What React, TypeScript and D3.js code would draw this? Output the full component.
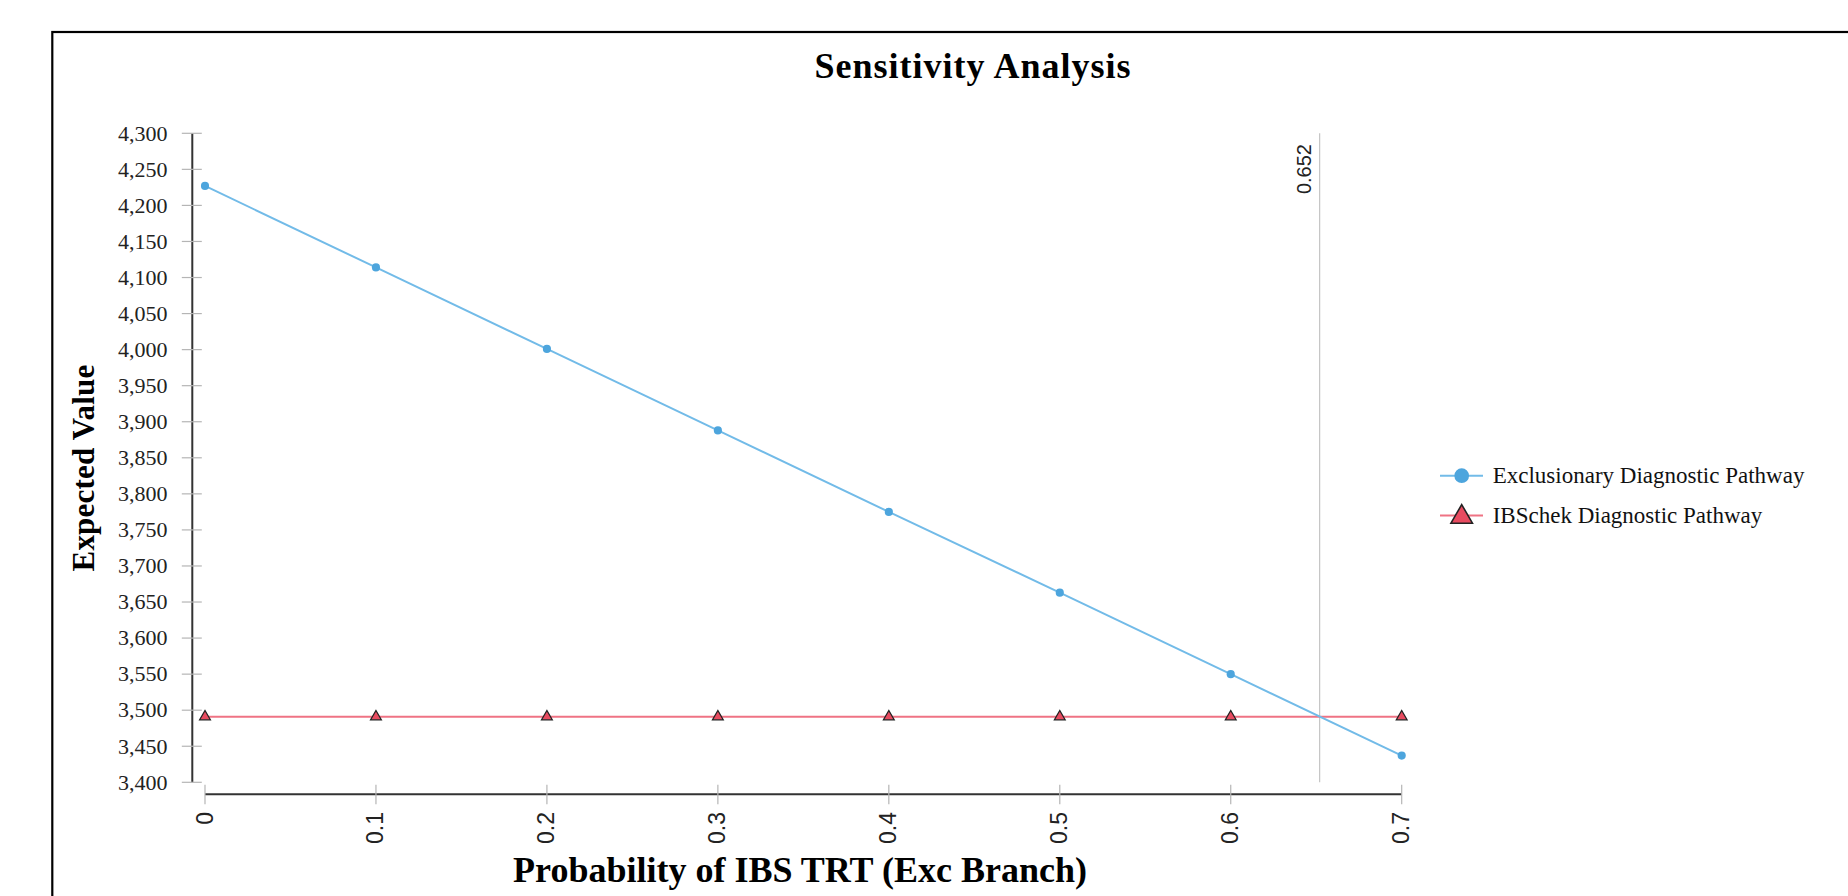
import React from "react";
import * as d3 from "d3";

const xValues = [0, 0.1, 0.2, 0.3, 0.4, 0.5, 0.6, 0.7];
const exclusionary = [4227, 4114, 4001, 3888, 3775, 3663, 3550, 3437];
const ibschek = [3491, 3491, 3491, 3491, 3491, 3491, 3491, 3491];
const yTickValues = [3400, 3450, 3500, 3550, 3600, 3650, 3700, 3750, 3800, 3850, 3900, 3950, 4000, 4050, 4100, 4150, 4200, 4250, 4300];
const xTickValues = [0, 0.1, 0.2, 0.3, 0.4, 0.5, 0.6, 0.7];
const threshold = 0.652;
const seriesNames = ["Exclusionary Diagnostic Pathway", "IBSchek Diagnostic Pathway"];
const title = "Sensitivity Analysis";
const xTitle = "Probability of IBS TRT (Exc Branch)";
const yTitle = "Expected Value";

const BLUE_LINE = "#72bbe8";
const BLUE_DOT = "#4da5dd";
const RED_LINE = "#ef7384";
const RED_FILL = "#e84b60";
const SERIF = "'Liberation Serif', 'Times New Roman', serif";
const SANS = "'Liberation Sans', Arial, sans-serif";

export default function App() {
  const W = 1848, H = 896;
  const x = d3.scaleLinear().domain([0, 0.7]).range([205, 1401.7]);
  const y = d3.scaleLinear().domain([3400, 4300]).range([782.3, 133.3]);
  const yAxisX = 192.3;
  const xAxisY = 794.3;

  const line = d3.line<number>().x((_, i) => x(xValues[i])).y((d) => y(d));
  const circle = d3.symbol(d3.symbolCircle, 52)()!;
  const tri = d3.symbol(d3.symbolTriangle, 50)()!;
  const triBig = d3.symbol(d3.symbolTriangle, 200)()!;
  const circBig = d3.symbol(d3.symbolCircle, 170)()!;
  const fmt = d3.format(",");

  const legendX = 1440;
  const legendY = [475.7, 515.5];

  return (
    <svg width={W} height={H} style={{ position: "absolute", left: 0, top: 0, background: "#fff" }}>
      <rect x={52.3} y={32} width={2000} height={1000} fill="#fff" stroke="#000" strokeWidth={2.2} />
      <text x={973} y={77.7} textAnchor="middle" fontFamily={SERIF} fontWeight="bold" fontSize={36} letterSpacing={1} fill="#000">{title}</text>

      {/* y axis */}
      <line x1={yAxisX} x2={yAxisX} y1={y(4300)} y2={y(3400)} stroke="#333" strokeWidth={2} />
      {yTickValues.map((t) => (
        <g key={t}>
          <line x1={yAxisX - 10.5} x2={yAxisX + 9.5} y1={y(t)} y2={y(t)} stroke="#b5b5b5" strokeWidth={1.2} />
          <text x={167.5} y={y(t)} dy="0.33em" textAnchor="end" fontFamily={SERIF} fontSize={22} fill="#222">{fmt(t)}</text>
        </g>
      ))}
      <text transform={`translate(94,468) rotate(-90)`} textAnchor="middle" fontFamily={SERIF} fontWeight="bold" fontSize={31} letterSpacing={0.2} fill="#000">{yTitle}</text>

      {/* x axis */}
      <line x1={x(0)} x2={x(0.7)} y1={xAxisY} y2={xAxisY} stroke="#333" strokeWidth={2} />
      {xTickValues.map((t) => (
        <g key={t}>
          <line x1={x(t)} x2={x(t)} y1={xAxisY - 9.5} y2={xAxisY + 10} stroke="#b5b5b5" strokeWidth={1.2} />
          <text transform={`translate(${x(t) + 7.5},812) rotate(-90)`} textAnchor="end" fontFamily={SANS} fontSize={23} fill="#222">{String(t)}</text>
        </g>
      ))}
      <text x={800} y={882} textAnchor="middle" fontFamily={SERIF} fontWeight="bold" fontSize={36} fill="#000">{xTitle}</text>

      {/* threshold line */}
      <line x1={x(threshold)} x2={x(threshold)} y1={y(4300)} y2={y(3400)} stroke="#c4c4c4" strokeWidth={1.2} />
      <text transform={`translate(${x(threshold) - 8.5},144) rotate(-90)`} textAnchor="end" fontFamily={SANS} fontSize={20} fill="#222">{String(threshold)}</text>

      {/* series */}
      <path d={line(ibschek) || ""} fill="none" stroke={RED_LINE} strokeWidth={2} />
      <path d={line(exclusionary) || ""} fill="none" stroke={BLUE_LINE} strokeWidth={2} />
      {ibschek.map((v, i) => (
        <path key={"t" + i} d={tri} transform={`translate(${x(xValues[i])},${y(v)})`} fill={RED_FILL} stroke="#222" strokeWidth={1.3} />
      ))}
      {exclusionary.map((v, i) => (
        <path key={"c" + i} d={circle} transform={`translate(${x(xValues[i])},${y(v)})`} fill={BLUE_DOT} />
      ))}

      {/* legend */}
      <g>
        <line x1={legendX} x2={legendX + 43} y1={legendY[0]} y2={legendY[0]} stroke={BLUE_LINE} strokeWidth={2} />
        <path d={circBig} transform={`translate(${legendX + 21.7},${legendY[0]})`} fill={BLUE_DOT} />
        <text x={1492.7} y={legendY[0] + 7} fontFamily={SERIF} fontSize={23} fill="#111">{seriesNames[0]}</text>
        <line x1={legendX} x2={legendX + 43} y1={legendY[1]} y2={legendY[1]} stroke={RED_LINE} strokeWidth={2} />
        <path d={triBig} transform={`translate(${legendX + 21.7},${legendY[1] + 1.5})`} fill={RED_FILL} stroke="#222" strokeWidth={1.6} />
        <text x={1492.7} y={legendY[1] + 7} fontFamily={SERIF} fontSize={23} fill="#111">{seriesNames[1]}</text>
      </g>
    </svg>
  );
}
